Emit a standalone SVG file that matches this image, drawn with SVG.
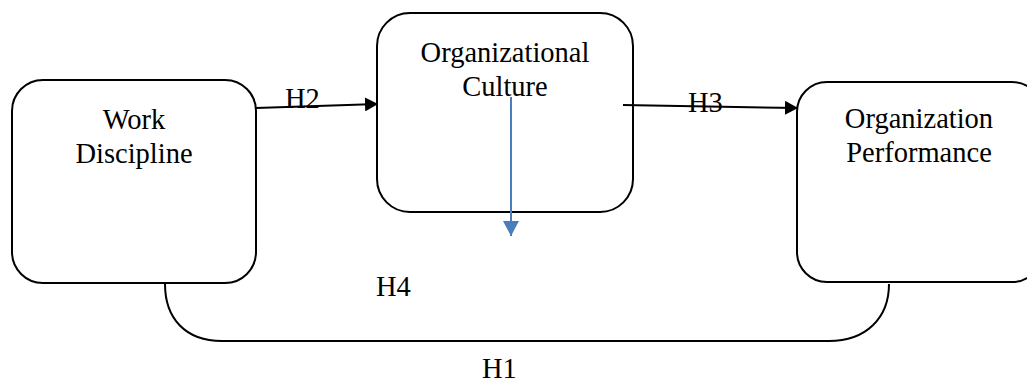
<svg xmlns="http://www.w3.org/2000/svg" width="1027" height="385" viewBox="0 0 1027 385">
  <style>
    .box { fill: #ffffff; stroke: #000000; stroke-width: 2; }
    .lbl { font-family: "Liberation Serif", "Times New Roman", serif; font-size: 28.5px; fill: #000000; }
    .ctr { text-anchor: middle; }
    .conn { fill: none; stroke: #000000; stroke-width: 2; }
    .blue { fill: none; stroke: #4a7ebb; stroke-width: 2; }
  </style>
  <defs>
    <marker id="ah" markerUnits="userSpaceOnUse" markerWidth="14" markerHeight="14" refX="13" refY="7" orient="auto">
      <path d="M0,0 L13,7 L0,14 z" fill="#000000"/>
    </marker>
    <marker id="ahb" markerUnits="userSpaceOnUse" markerWidth="16" markerHeight="16" refX="15" refY="8" orient="auto">
      <path d="M0,0 L15,8 L0,16 z" fill="#4a7ebb"/>
    </marker>
  </defs>

  <g id="node-work-discipline">
    <rect class="box" x="12" y="80" width="244" height="203" rx="31" ry="31"/>
    <text class="lbl ctr" x="134" y="129">Work</text>
    <text class="lbl ctr" x="134" y="163">Discipline</text>
  </g>

  <g id="node-organizational-culture">
    <rect class="box" x="377" y="13" width="256" height="199" rx="33" ry="33"/>
    <text class="lbl ctr" x="505" y="62">Organizational</text>
    <text class="lbl ctr" x="505" y="96">Culture</text>
  </g>

  <g id="node-organization-performance">
    <rect class="box" x="797" y="82" width="245" height="200" rx="30" ry="30"/>
    <text class="lbl ctr" x="919" y="128">Organization</text>
    <text class="lbl ctr" x="919" y="162">Performance</text>
  </g>

  <g id="connectors">
    <line class="conn" x1="256" y1="108" x2="378" y2="104" marker-end="url(#ah)"/>
    <line class="conn" x1="623" y1="105" x2="798" y2="108" marker-end="url(#ah)"/>
    <line class="blue" x1="511" y1="97" x2="511" y2="236" marker-end="url(#ahb)"/>
    <path class="conn" d="M165,284 C165,318 185,341 222,341 L829,341 C866,341 889,318 889,284"/>
    <text class="lbl" x="285" y="108">H2</text>
    <text class="lbl" x="688" y="112">H3</text>
    <text class="lbl" x="376" y="296">H4</text>
    <text class="lbl" x="482" y="378">H1</text>
  </g>
</svg>
